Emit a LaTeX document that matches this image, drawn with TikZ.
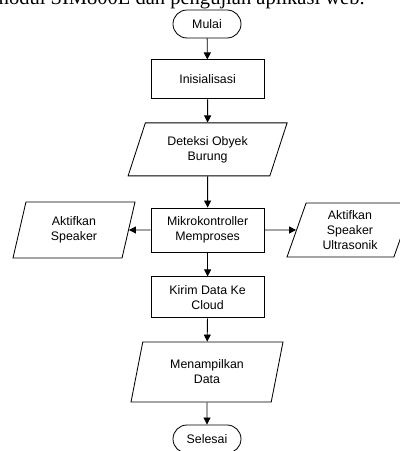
\documentclass[tikz,border=0pt]{standalone}
\usepackage{fontspec}
\setmainfont{Liberation Sans}
\newfontfamily\serifdoc{Liberation Serif}
\usetikzlibrary{arrows.meta}
\usetikzlibrary{shapes.geometric,shapes.misc}

\tikzset{
  flow/.style={line width=0.6pt,-{Triangle[length=5pt,width=5pt]}},
  terminal/.style={draw,line width=0.6pt,rounded rectangle,inner sep=0pt,
    minimum width=1.7cm,minimum height=0.7cm},
  process/.style={draw,line width=0.6pt,rectangle,inner sep=0pt,align=center,
    minimum width=2.825cm},
  io/.style={draw,line width=0.6pt,trapezium,trapezium stretches body,
    trapezium left angle=#1,trapezium right angle=180-#1,inner sep=0pt,align=center},
  io/.default=64
}

\begin{document}
\begin{tikzpicture}
  \fontsize{8.8}{10.7}\selectfont
  \useasboundingbox (0,0) rectangle (10,11.275);
  \clip (0,0) rectangle (10,11.275);
  % last line of the page text above the chart, cut by the frame
  \node (caption) at (9.125,11.15) [anchor=base east,inner sep=0pt]
    {\serifdoc\fontsize{14.6}{17}\selectfont modul SIM800L dan pengujian aplikasi web.};

  \node (mulai) at (5.175,10.675) [terminal] {Mulai};
  \node (init) at (5.19,9.29) [process,minimum height=0.975cm] {Inisialisasi};
  \node (deteksi) at (5.19,7.54) [io=57,minimum width=3.975cm,minimum height=1.325cm] {Deteksi Obyek\\Burung};
  \node (mikro) at (5.19,5.525) [process,minimum height=1.1cm] {Mikrokontroller\\Memproses};
  \node (speaker) at (1.85,5.525) [io,minimum width=3.05cm,minimum height=1.4cm] {Aktifkan\\Speaker};
  \node (ultra) at (8.75,5.525) [io,minimum width=3.15cm,minimum height=1.35cm] {Aktifkan\\Speaker\\Ultrasonik};
  \node (kirim) at (5.19,3.84) [process,minimum height=1.025cm] {Kirim Data Ke\\Cloud};
  \node (tampil) at (5.175,1.975) [io,minimum width=3.8cm,minimum height=1.5cm] {Menampilkan\\Data};
  \node (selesai) at (5.175,0.3) [terminal] {Selesai};

  \draw[flow] (mulai) -- (init);
  \draw[flow] (init) -- (deteksi);
  \draw[flow] (deteksi) -- (mikro);
  \draw[flow] (mikro) -- (speaker);
  \draw[flow] (mikro) -- (ultra);
  \draw[flow] (mikro) -- (kirim);
  \draw[flow] (kirim) -- (tampil);
  \draw[flow] (tampil) -- (selesai);
\end{tikzpicture}
\end{document}
